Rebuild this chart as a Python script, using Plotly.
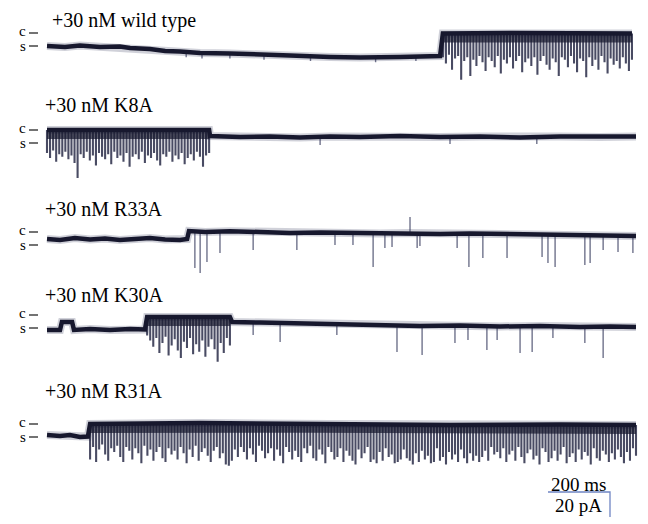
import numpy as np
import plotly.graph_objects as go

# ---------------- data: time in ms, current in pA relative to the "s" level ----------------
labels = ["+30 nM wild type", "+30 nM K8A", "+30 nM R33A", "+30 nM K30A", "+30 nM R31A"]
c_level = 10.4          # pA, closed level above s
scale_ms = 200
scale_pa = 20

# wild type
wt_level_t = [0, 58, 106, 171, 235, 268, 332, 381, 429, 494, 590, 687, 784, 913, 1010, 1139, 1203, 1268, 1277, 1500, 1887]
wt_level_i = [0, -0.8, 0.4, -0.8, -0.4, -1.6, -2.4, -4, -4.4, -5.6, -6, -7.2, -7.6, -8.8, -9.2, -8.8, -8.4, -8, 10, 10.4, 10]
wt_burst = [1277, 1887]
wt_burst_min = [-9, -14, -7, -19, -10, -8, -27, -12, -9, -24, -11, -16, -8, -13, -20, -9, -12, -17, -8, -22,
                -11, -14, -9, -18, -12, -8, -21, -13, -10, -16, -9, -23, -12, -8, -15, -19, -10, -13, -24, -9,
                -11, -17, -8, -14, -21, -10, -12, -25, -9, -16, -11, -19, -8, -13, -22, -10, -15, -12, -18, -9,
                -14, -20, -11]
wt_spike_t = [449, 500, 590, 700, 850, 1060, 1190]
wt_spike_i = [-9, -10, -10, -11, -12, -13, -12]

# K8A
k8_level_t = [0, 523, 526, 623, 719, 816, 913, 1010, 1139, 1268, 1397, 1526, 1655, 1784, 1900]
k8_level_i = [10.4, 10.4, 5.6, 4.8, 5.2, 4.4, 5.2, 4.8, 5.6, 4.8, 5.2, 4.4, 5.2, 4.8, 5.2]
k8_burst = [0, 523]
k8_burst_min = [-8, -12, -6, -15, -9, -11, -7, -13, -10, -16, -28, -9, -12, -7, -14, -10, -18, -8, -11, -13,
                -9, -17, -7, -12, -10, -15, -8, -19, -11, -9, -13, -7, -16, -10, -12, -8, -14, -18, -9, -11,
                -7, -15, -10, -13, -8, -17, -12, -9, -14, -7, -11, -19, -10, -8]
k8_spike_t = [881, 1300, 1580]
k8_spike_i = [-1.6, -0.8, -0.8]

# R33A
r33_level_t = [0, 42, 90, 139, 187, 235, 284, 332, 381, 429, 452, 458, 510, 590, 687, 784, 881, 977, 1074,
               1171, 1268, 1365, 1461, 1558, 1655, 1752, 1816, 1900]
r33_level_i = [4.8, 4, 5.6, 4.4, 5.2, 4, 4.8, 5.6, 4.4, 4, 4.8, 11.2, 10.4, 11, 10.4, 9.6, 10, 9.6, 9.2,
               9.6, 8.8, 9.2, 8.8, 8.4, 8.4, 7.6, 8, 7.2]
r33_spike_t = [477, 494, 516, 558, 665, 806, 929, 987, 1052, 1090, 1113, 1171, 1194, 1203, 1323, 1361, 1406,
               1484, 1597, 1616, 1639, 1735, 1752, 1794, 1842, 1890]
r33_spike_i = [-18.4, -22.4, -13.6, -6.4, -4, -4, 0, 0, -17.6, -2.4, -1.6, 22.4, -2.4, -0.8, -2.4, -17.6, -10.4,
               -10.4, -9.6, -14.4, -17.6, -16, -14.4, -4, -5.6, -6.4]

# K30A
k30_level_t = [0, 42, 48, 81, 87, 139, 203, 268, 316, 323, 590, 597, 687, 752, 848, 945, 1074, 1203, 1332,
               1461, 1590, 1719, 1816, 1900]
k30_level_i = [-1.6, -1.6, 4.8, 4.8, -1.6, -0.8, -1.6, -0.8, -1.2, 8.8, 8.8, 4.8, 4.4, 4, 3.2, 2.4, 2, 1.6, 2,
               1.2, 1.6, 0.8, 1.2, 0.8]
k30_burst = [323, 590]
k30_burst_min = [-6, -10, -15, -8, -20, -12, -7, -22, -14, -9, -18, -24, -11, -16, -8, -21, -13, -19, -10, -23,
                 -15, -9, -17, -27, -12, -20, -8, -14]
k30_spike_t = [665, 752, 935, 1129, 1210, 1316, 1358, 1419, 1452, 1526, 1565, 1632, 1735, 1794]
k30_spike_i = [-5.6, -11.2, -5.6, -19.2, -21.6, -12, -9.6, -17.6, -9.6, -20, -19.2, -8, -12, -24]

# R31A
r31_level_t = [0, 42, 74, 106, 132, 139, 494, 913, 1300, 1655, 1900]
r31_level_i = [1.6, 0.8, 1.6, 0, 0.4, 10.4, 11.2, 10.4, 9.6, 10, 9.6]
r31_burst = [139, 1900]
r31_burst_min = [-18, -8, -20, -10, -6, -14, -19, -9, -12, -7,
                 -16, -20, -8, -11, -18, -9, -13, -21, -7, -15,
                 -10, -19, -12, -8, -17, -20, -9, -14, -11, -18,
                 -8, -13, -21, -10, -16, -7, -19, -12, -9, -15,
                 -20, -11, -8, -17, -13, -22, -23, -19, -10, -16,
                 -8, -12, -18, -9, -14, -20, -7, -11, -17, -13,
                 -9, -19, -10, -15, -21, -8, -12, -18, -11, -16,
                 -20, -9, -13, -7, -17, -19, -10, -14, -21, -8,
                 -12, -18, -16, -9, -20, -11, -15, -19, -22, -10,
                 -17, -13, -8, -20, -18, -21, -12, -19, -9, -16,
                 -14, -21, -20, -18, -10, -17, -19, -22, -13, -20,
                 -11, -18, -15, -21, -20, -9, -19, -16, -22, -12,
                 -18, -14, -20, -10, -17, -21, -13, -19, -15, -20,
                 -16, -11, -19, -8, -14, -12, -17, -9, -20, -14,
                 -11, -19, -8, -16, -21, -13, -10, -18, -15, -22,
                 -9, -12, -20, -17, -11, -19, -14, -8, -21, -16,
                 -13, -20, -10, -18, -12, -15, -22, -9, -17, -19,
                 -11, -14, -20, -13, -18, -10, -16, -21, -12, -19,
                 -9, -15]
r31_spike_t = []
r31_spike_i = []

rows = [
    dict(lt=wt_level_t, li=wt_level_i, burst=wt_burst, bmin=wt_burst_min, st=wt_spike_t, si=wt_spike_i),
    dict(lt=k8_level_t, li=k8_level_i, burst=k8_burst, bmin=k8_burst_min, st=k8_spike_t, si=k8_spike_i),
    dict(lt=r33_level_t, li=r33_level_i, burst=None, bmin=[], st=r33_spike_t, si=r33_spike_i),
    dict(lt=k30_level_t, li=k30_level_i, burst=k30_burst, bmin=k30_burst_min, st=k30_spike_t, si=k30_spike_i),
    dict(lt=r31_level_t, li=r31_level_i, burst=r31_burst, bmin=r31_burst_min, st=r31_spike_t, si=r31_spike_i),
]

# ---------------- layout geometry (page pixels; the page body has an 8 px margin) ----------------
PAGE_W, PAGE_H = 648, 524
BODY = 8
W, H = PAGE_W - BODY, PAGE_H - BODY
PX_PER_MS = 0.31
PX_PER_PA = 1.25
T0_PX = 47
s_px = [46, 143, 245, 328, 437]
label_pos = [(50, 20), (43, 105), (43, 209), (43, 295), (43, 391)]
FONT = "Liberation Serif, Times New Roman, serif"
INK = "#17182e"
BAND_DROP = 4.0   # pA: dark core of a burst sits just under the open level


def px_t(px):
    return (px - T0_PX) / PX_PER_MS


def px_y(py):
    return (PAGE_H - py) / PX_PER_PA


fig = go.Figure()
annotations = []
dash_x, dash_y = [], []

for k, r in enumerate(rows):
    off = px_y(s_px[k])
    lt = np.array(r["lt"], float)
    li = np.array(r["li"], float)
    # soft fuzz along the whole record
    fig.add_trace(go.Scatter(x=lt, y=off + li, mode="lines", hoverinfo="skip",
                             line=dict(color="rgba(40,44,80,0.22)", width=8)))
    if r["burst"] is not None:
        tb = np.linspace(r["burst"][0], r["burst"][1], len(r["bmin"]))
        top = np.interp(tb, lt, li)
        xs, ys = [], []
        for t, b, m in zip(tb, top, r["bmin"]):
            xs += [t, t, None]
            ys += [off + b, off + m, None]
        fig.add_trace(go.Scatter(x=xs, y=ys, mode="lines", hoverinfo="skip",
                                 line=dict(color="rgba(28,30,60,0.8)", width=2.1)))
        fig.add_trace(go.Scatter(x=tb, y=off + top - BAND_DROP, mode="lines", hoverinfo="skip",
                                 line=dict(color="rgba(23,24,46,0.7)", width=8)))
    if r["st"]:
        xs, ys = [], []
        st = np.array(r["st"], float)
        base = np.interp(st, lt, li)
        for t, b, m in zip(st, base, r["si"]):
            xs += [t, t, None]
            ys += [off + b, off + m, None]
        fig.add_trace(go.Scatter(x=xs, y=ys, mode="lines", hoverinfo="skip",
                                 line=dict(color="rgba(50,54,90,0.7)", width=1.4)))
    fig.add_trace(go.Scatter(x=lt, y=off + li, mode="lines", hoverinfo="skip",
                             line=dict(color=INK, width=4.5)))

    lx, ly = label_pos[k]
    annotations.append(dict(x=px_t(lx), y=px_y(ly), xref="x", yref="y", text=labels[k],
                            showarrow=False, xanchor="left", yanchor="middle",
                            font=dict(family=FONT, size=20, color="black")))
    for txt, lvl, nudge in (("c", c_level, 1.0), ("s", 0, -0.8)):
        annotations.append(dict(x=px_t(28), y=off + lvl + nudge + 1.0, xref="x", yref="y", text=txt,
                                showarrow=False, xanchor="right", yanchor="middle",
                                font=dict(family=FONT, size=15, color="black")))
        dash_x += [px_t(29), px_t(38), None]
        dash_y += [off + lvl, off + lvl, None]

fig.add_trace(go.Scatter(x=dash_x, y=dash_y, mode="lines", hoverinfo="skip",
                         line=dict(color="black", width=1.1)))

# scale bar
sb_t0 = px_t(548)
sb_y0 = px_y(492)
fig.add_trace(go.Scatter(x=[sb_t0, sb_t0 + scale_ms, sb_t0 + scale_ms],
                         y=[sb_y0, sb_y0, sb_y0 - scale_pa], mode="lines", hoverinfo="skip",
                         line=dict(color="#6f85c4", width=1.3)))
annotations.append(dict(x=px_t(578), y=px_y(484), xref="x", yref="y", text=f"{scale_ms} ms",
                        showarrow=False, xanchor="center", yanchor="middle",
                        font=dict(family=FONT, size=19, color="black")))
annotations.append(dict(x=px_t(578), y=px_y(505), xref="x", yref="y", text=f"{scale_pa} pA",
                        showarrow=False, xanchor="center", yanchor="middle",
                        font=dict(family=FONT, size=19, color="black")))

fig.update_layout(
    width=W, height=H, margin=dict(l=0, r=0, t=0, b=0),
    paper_bgcolor="white", plot_bgcolor="white", showlegend=False,
    xaxis=dict(range=[px_t(BODY), px_t(PAGE_W)], visible=False, fixedrange=True),
    yaxis=dict(range=[px_y(PAGE_H), px_y(BODY)], visible=False, fixedrange=True),
    annotations=annotations,
)

fig.write_html("out.html")
